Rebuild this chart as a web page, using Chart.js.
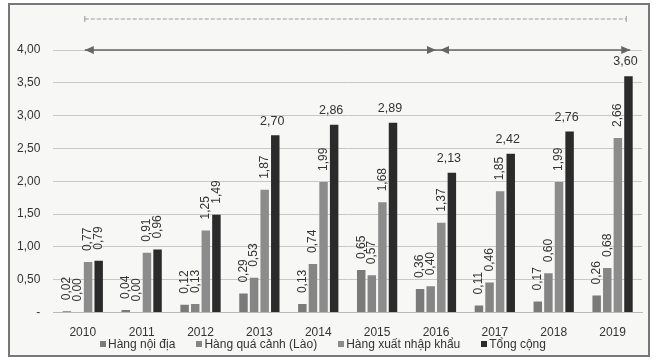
<!DOCTYPE html>
<html lang="vi">
<head>
<meta charset="UTF-8">
<title>Sản lượng hàng hóa</title>
<script src="https://cdn.jsdelivr.net/npm/chart.js"></script>
<style>
    body { margin: 0; background: #fff; font-family: "Liberation Sans", Arial, sans-serif; }
    .frame {
        position: absolute; left: 8px; top: 3px; width: 638px; height: 350px;
        border: 2px solid #777; background: #f7f7f5;
    }
    canvas { position: absolute; left: 0; top: 0; }
    #legend {
        position: absolute; left: 100px; top: 337px;
        display: flex; gap: 21px; font-size: 12px; color: #333;
    }
    #legend span { display: flex; align-items: center; white-space: nowrap; }
    #legend i { display: inline-block; width: 6px; height: 6px; margin-right: 2px; }
</style>
</head>
<body>
<div class="frame"></div>
<canvas id="c" width="658" height="364"></canvas>
<div id="legend"></div>
<script>
    // Dữ liệu
    const years = ['2010', '2011', '2012', '2013', '2014', '2015', '2016', '2017', '2018', '2019'];
    const noiDia = [0.02, 0.04, 0.12, 0.29, 0.13, 0.65, 0.36, 0.11, 0.17, 0.26];
    const quaCanh = [0.00, 0.00, 0.13, 0.53, 0.74, 0.57, 0.40, 0.46, 0.60, 0.68];
    const xuatNhapKhau = [0.77, 0.91, 1.25, 1.87, 1.99, 1.68, 1.37, 1.85, 1.99, 2.66];
    const tongCong = [0.79, 0.96, 1.49, 2.70, 2.86, 2.89, 2.13, 2.42, 2.76, 3.60];
    const yTicks = [0, 0.5, 1, 1.5, 2, 2.5, 3, 3.5, 4];

    const fmt = v => v.toFixed(2).replace('.', ',');
    const FONT = '"Liberation Sans", Arial';

    // nhãn giá trị: xoay dọc, riêng tổng cộng từ 2013 nằm ngang
    const labelPlugin = {
        id: 'labels',
        afterDatasetsDraw(chart) {
            const ctx = chart.ctx;
            ctx.save();
            ctx.fillStyle = '#333';
            chart.data.datasets.forEach((ds, i) => {
                chart.getDatasetMeta(i).data.forEach((bar, j) => {
                    const txt = fmt(ds.data[j]);
                    if (i < 3 || j < 3) {
                        ctx.save();
                        ctx.translate(bar.x, bar.y - 11);
                        ctx.rotate(-Math.PI / 2);
                        ctx.font = '12px ' + FONT;
                        ctx.textAlign = 'left';
                        ctx.textBaseline = 'middle';
                        ctx.fillText(txt, 0, 0);
                        ctx.restore();
                    } else {
                        ctx.font = '12.5px ' + FONT;
                        ctx.textAlign = 'center';
                        ctx.textBaseline = 'bottom';
                        ctx.fillText(txt, bar.x - 3, bar.y - 8);
                    }
                });
            });
            ctx.restore();
        }
    };

    // mũi tên giai đoạn và đường nét đứt phía trên
    function arrowHead(ctx, x, y, dir) {
        ctx.beginPath();
        ctx.moveTo(x, y);
        ctx.lineTo(x - dir * 9, y - 4);
        ctx.lineTo(x - dir * 9, y + 4);
        ctx.closePath();
        ctx.fill();
    }
    const arrowPlugin = {
        id: 'arrows',
        afterDraw(chart) {
            const ctx = chart.ctx, xs = chart.scales.x, ys = chart.scales.y;
            const step = xs.getPixelForValue(1) - xs.getPixelForValue(0);
            const y = ys.getPixelForValue(4);
            const x0 = xs.getPixelForValue(0) + 2;
            const xm = xs.getPixelForValue(6) + 2;
            const x1 = xs.getPixelForValue(9) + step * 0.3;
            ctx.save();
            ctx.strokeStyle = '#666';
            ctx.fillStyle = '#666';
            ctx.lineWidth = 1.5;
            ctx.beginPath(); ctx.moveTo(x0, y); ctx.lineTo(x1, y); ctx.stroke();
            arrowHead(ctx, x0, y, -1);
            arrowHead(ctx, xm - 2, y, 1);
            arrowHead(ctx, xm + 2, y, -1);
            arrowHead(ctx, x1, y, 1);
            // đường nét đứt phía trên
            const yt = chart.chartArea.top - 31;
            ctx.strokeStyle = '#999';
            ctx.lineWidth = 1;
            ctx.setLineDash([4, 2]);
            ctx.beginPath(); ctx.moveTo(x0, yt); ctx.lineTo(x1 - 4, yt); ctx.stroke();
            ctx.setLineDash([]);
            ctx.beginPath();
            ctx.moveTo(x0, yt - 3); ctx.lineTo(x0, yt + 3);
            ctx.moveTo(x1 - 4, yt - 3); ctx.lineTo(x1 - 4, yt + 3);
            ctx.stroke();
            ctx.restore();
        }
    };

    const common = { categoryPercentage: 0.72, barPercentage: 0.8 };

    const chart = new Chart(document.getElementById('c'), {
        type: 'bar',
        data: {
            labels: years,
            datasets: [
                { label: 'Hàng nội địa', data: noiDia, backgroundColor: '#7a7a7a', ...common },
                { label: 'Hàng quá cảnh (Lào)', data: quaCanh, backgroundColor: '#858585', ...common },
                { label: 'Hàng xuất nhập khẩu', data: xuatNhapKhau, backgroundColor: '#8c8c8c', ...common },
                { label: 'Tổng cộng', data: tongCong, backgroundColor: '#2b2b2b', ...common }
            ]
        },
        options: {
            responsive: false,
            animation: false,
            layout: { padding: { left: 4, right: 16, top: 50, bottom: 19 } },
            plugins: {
                tooltip: { enabled: false },
                legend: { display: false }
            },
            scales: {
                x: {
                    grid: { display: false },
                    border: { color: '#bbb' },
                    ticks: { color: '#333', padding: 5, font: { family: FONT, size: 12 } }
                },
                y: {
                    min: 0, max: 4,
                    afterBuildTicks: axis => { axis.ticks = yTicks.map(v => ({ value: v })); },
                    grid: { color: '#c8c8c8', drawTicks: false },
                    border: { display: false },
                    ticks: {
                        color: '#333', padding: 13,
                        font: { family: FONT, size: 12 },
                        callback: v => v === 0 ? '-' : fmt(v)
                    }
                }
            }
        },
        plugins: [labelPlugin, arrowPlugin]
    });

    // chú giải dạng HTML
    document.getElementById('legend').innerHTML = chart.data.datasets
        .map(ds => `<span><i style="background:${ds.backgroundColor}"></i>${ds.label}</span>`).join('');
</script>
</body>
</html>
